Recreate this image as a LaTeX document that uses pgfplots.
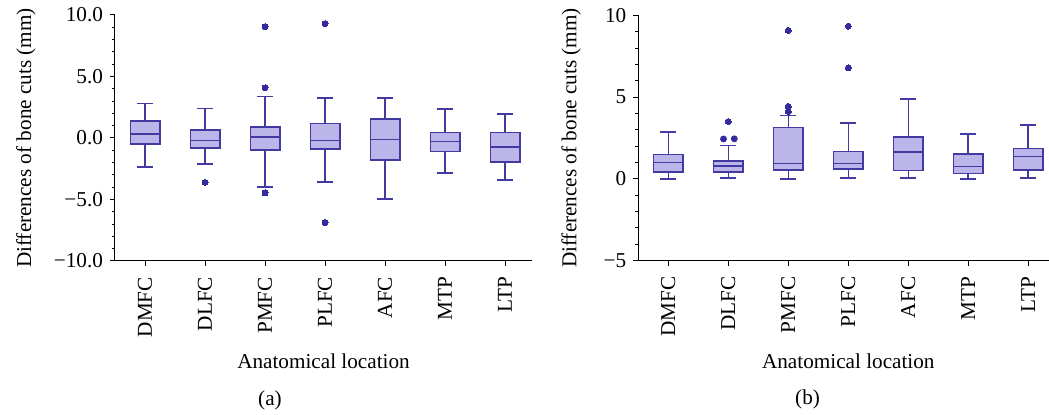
\documentclass[border=0pt]{standalone}
\usepackage{fontspec}
\setmainfont{Liberation Serif}
\usepackage{pgfplots}
\pgfplotsset{compat=1.18}
\usepgfplotslibrary{statistics}

\definecolor{boxfill}{RGB}{187,181,233}
\definecolor{boxedge}{RGB}{66,58,160}
\definecolor{dotc}{RGB}{52,44,158}

\pgfplotsset{
  bonecut/.style={
    scale only axis, anchor=south west,
    axis x line*=bottom, axis y line*=left,
    axis line style={-, line width=0.5pt},
    tick align=outside,
    major tick length=2.5pt, minor tick length=1.6pt,
    tick style={black, line width=0.5pt},
    xtick={0,...,6},
    xticklabels={DMFC,DLFC,PMFC,PLFC,AFC,MTP,LTP},
    xticklabel style={rotate=90, anchor=east, xshift=-2pt},
    minor y tick num=4,
    xlabel={Anatomical location},
    ylabel={Differences of bone cuts (mm)},
    every axis title shift=0pt,
    boxplot/draw direction=y,
    boxplot/box extend=0.49,
    boxplot/whisker extend=0.27,
  },
  bx/.style={boxplot prepared={#1}, draw=boxedge, fill=boxfill,
    line width=0.8pt, mark=*, mark size=1.5pt,
    mark options={draw=dotc, fill=dotc, line width=0pt}},
}

\begin{document}
\begin{tikzpicture}[font=\fontsize{10.6}{12.7}\selectfont]
\useasboundingbox (0,0) rectangle (524.5pt,-207.5pt);

% (a) signed differences
\begin{axis}[bonecut,
    at={(57.5pt,-130.5pt)},
    width=208.5pt, height=123pt,
    xmin=-0.5, xmax=6.45,
    ymin=-10, ymax=10,
    ytick={-10,-5,0,5,10},
    yticklabels={−10.0,−5.0,0.0,5.0,10.0},
    ylabel style={at={(axis description cs:-0.2134,0.5)}, anchor=center},
    xlabel style={at={(axis description cs:0.5,-0.4065)}, anchor=center},
    title={(a)},
    title style={at={(axis description cs:0.3717,-0.565)}, anchor=center},
  ]
  \addplot[bx={draw position=0, lower whisker=-2.36, lower quartile=-0.49, median=0.33, upper quartile=1.39, upper whisker=2.80}] coordinates {};
  \addplot[bx={draw position=1, lower whisker=-2.12, lower quartile=-0.82, median=-0.19, upper quartile=0.63, upper whisker=2.39}] table[row sep=\\, y index=0] {-3.61\\};
  \addplot[bx={draw position=2, lower whisker=-3.97, lower quartile=-1.00, median=0.08, upper quartile=0.87, upper whisker=3.37}] table[row sep=\\, y index=0] {9.05\\ 4.08\\ -4.46\\};
  \addplot[bx={draw position=3, lower whisker=-3.56, lower quartile=-0.90, median=-0.19, upper quartile=1.17, upper whisker=3.26}] table[row sep=\\, y index=0] {9.29\\ -6.87\\};
  \addplot[bx={draw position=4, lower whisker=-4.97, lower quartile=-1.79, median=-0.11, upper quartile=1.52, upper whisker=3.26}] coordinates {};
  \addplot[bx={draw position=5, lower whisker=-2.85, lower quartile=-1.11, median=-0.27, upper quartile=0.46, upper whisker=2.34}] coordinates {};
  \addplot[bx={draw position=6, lower whisker=-3.42, lower quartile=-1.96, median=-0.73, upper quartile=0.46, upper whisker=1.93}] coordinates {};
\end{axis}

% (b) absolute differences
\begin{axis}[bonecut,
    at={(319.15pt,-130.35pt)},
    width=210pt, height=122.7pt,
    xmin=-0.5, xmax=6.5,
    ymin=-5, ymax=10,
    ytick={-5,0,5,10},
    yticklabels={−5,0,5,10},
    ylabel style={at={(axis description cs:-0.160,0.5)}, anchor=center},
    xlabel style={at={(axis description cs:0.5,-0.4087)}, anchor=center},
    title={(b)},
    title style={at={(axis description cs:0.403,-0.567)}, anchor=center},
  ]
  \addplot[bx={draw position=0, lower whisker=0.00, lower quartile=0.43, median=1.01, upper quartile=1.48, upper whisker=2.86}] coordinates {};
  \addplot[bx={draw position=1, lower whisker=0.04, lower quartile=0.43, median=0.79, upper quartile=1.10, upper whisker=2.05}] table[row sep=\\, y index=0] {3.51\\};
  % the two tied outliers of DLFC sit side by side
  \addplot[only marks, mark=*, mark size=1.5pt, draw=dotc, fill=dotc] coordinates {(0.92,2.44) (1.10,2.45)};
  \addplot[bx={draw position=2, lower whisker=0.00, lower quartile=0.55, median=0.93, upper quartile=3.15, upper whisker=3.88}] table[row sep=\\, y index=0] {9.08\\ 4.43\\ 4.12\\};
  \addplot[bx={draw position=3, lower whisker=0.04, lower quartile=0.59, median=0.93, upper quartile=1.68, upper whisker=3.41}] table[row sep=\\, y index=0] {9.33\\ 6.79\\};
  \addplot[bx={draw position=4, lower whisker=0.06, lower quartile=0.51, median=1.65, upper quartile=2.56, upper whisker=4.90}] coordinates {};
  \addplot[bx={draw position=5, lower whisker=0.00, lower quartile=0.34, median=0.75, upper quartile=1.54, upper whisker=2.76}] coordinates {};
  \addplot[bx={draw position=6, lower whisker=0.04, lower quartile=0.55, median=1.36, upper quartile=1.85, upper whisker=3.31}] coordinates {};
\end{axis}
\end{tikzpicture}
\end{document}
